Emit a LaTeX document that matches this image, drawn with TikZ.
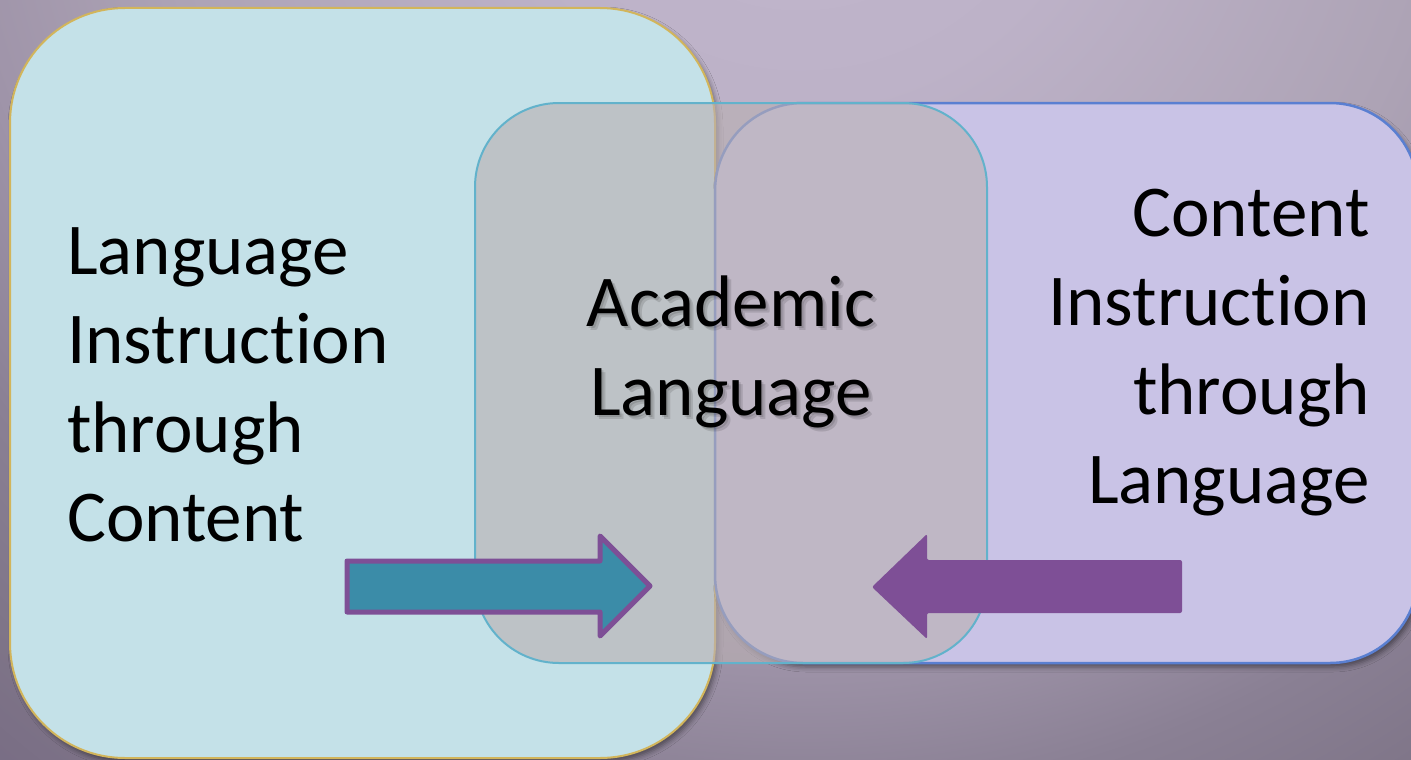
\documentclass[tikz,border=0pt]{standalone}
\usepackage{fontspec}
\setmainfont{Carlito}[Ligatures=NoCommon]
\usetikzlibrary{shadows.blur}
\definecolor{bgA}{HTML}{C2B7CD}
\definecolor{bgB}{HTML}{BDB2C8}
\definecolor{bgC}{HTML}{ADA3B5}
\definecolor{bgD}{HTML}{9F94A9}
\definecolor{bgE}{HTML}{8A8094}
\definecolor{bgF}{HTML}{7F7588}
\definecolor{bgG}{HTML}{766A83}
\definecolor{leftfill}{HTML}{C4E1E8}
\definecolor{leftline}{HTML}{D2B55B}
\definecolor{rightfill}{HTML}{C9C3E6}
\definecolor{rightline}{HTML}{5A7FD1}
\definecolor{midfill}{HTML}{BAB0B3}
\definecolor{midline}{HTML}{62B2CB}
\definecolor{arrteal}{HTML}{3B8CA8}
\definecolor{arrpurple}{HTML}{7E4F96}
% TikZ maps 25bp of the shading to half the path size (1400pt): factor 56
\pgfdeclareradialshading{bgshade}{\pgfpoint{0bp}{0bp}}{color(0bp)=(bgA); color(5.36bp)=(bgB); color(11.6bp)=(bgC); color(15.2bp)=(bgD); color(17.9bp)=(bgE); color(20.5bp)=(bgF); color(23.2bp)=(bgG); color(50bp)=(bgG)}
\begin{document}
\begin{tikzpicture}[x=1pt,y=-1pt,
  bigtext/.style={font=\fontsize{73}{89}\selectfont, inner sep=0pt, text=black},
  softshadow/.style={blur shadow={shadow xshift=3pt, shadow yshift=-4pt, shadow blur radius=5pt, shadow opacity=45}}]
\useasboundingbox (0,0) rectangle (1411,760);
\begin{scope}
\clip (0,0) rectangle (1411,760);
% background
\path[shading=bgshade] (-600,-1600) rectangle (2200,1200);
% left box
\draw[softshadow, rounded corners=115pt, line width=2pt, draw=leftline, fill=leftfill] (10,8) rectangle (715,758);
% right box
\draw[softshadow, rounded corners=88pt, line width=2.5pt, draw=rightline, fill=rightfill] (715,103) rectangle (1418,663);
% middle box
\draw[rounded corners=84pt, line width=2pt, draw=midline, fill=midfill, fill opacity=0.63] (475,103) rectangle (987,663);
% arrows
\draw[line width=5pt, line join=round, draw=arrpurple, fill=arrteal] (347,561) -- (600,561) -- (600,536) -- (650,586) -- (600,636) -- (600,612) -- (347,612) -- cycle;
\fill[arrpurple, rounded corners=2pt] (1182,560) -- (927,560) -- (927,534) -- (872,587) -- (927,639) -- (927,613) -- (1182,613) -- cycle;
\end{scope}
% texts (base anchor = baseline of the last line)
\node[bigtext, anchor=base west, align=left] (lefttext) at (67,541) {Language\\Instruction\\through\\Content};
\node[bigtext, anchor=base east, align=right] (righttext) at (1370,503) {Content\\Instruction\\through\\Language};
\node[bigtext, anchor=base, align=center, opacity=0.12] (midshadowa) at (735,419) {Academic\\Language};
\node[bigtext, anchor=base, align=center, opacity=0.12] (midshadowb) at (733,417) {Academic\\Language};
\node[bigtext, anchor=base, align=center] (midtext) at (731,415) {Academic\\Language};
\end{tikzpicture}
\end{document}
